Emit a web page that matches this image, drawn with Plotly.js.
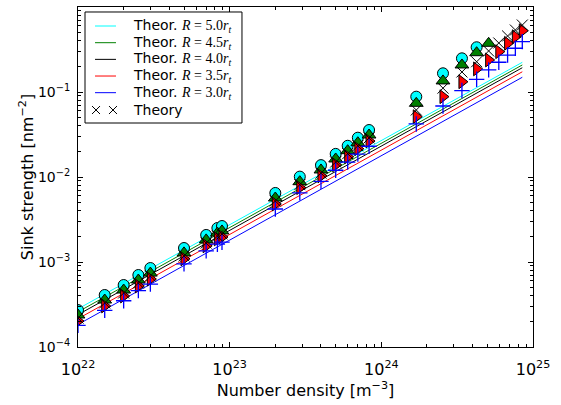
<!DOCTYPE html>
<html>
<head>
<meta charset="utf-8">
<script src="https://cdn.plot.ly/plotly-3.0.1.min.js"></script>
<style>html,body{margin:0;padding:0;background:#fff;}#chart{width:561px;height:405px;}</style>
</head>
<body>
<div id="chart"></div>
<script>
// ---- Theory lines (read at the two ends) ----
const lineX = [1e22, 8.5e24];
const lineR50 = [2.81e-4, 2.235e-1];
const lineR45 = [2.59e-4, 2.08e-1];
const lineR40 = [2.40e-4, 1.93e-1];
const lineR35 = [2.15e-4, 1.73e-1];
const lineR30 = [1.84e-4, 1.49e-1];
const lineLabels = ["5.0", "4.5", "4.0", "3.5", "3.0"];

// ---- Simulation points ----
const nDensity = [1e22, 1.5e22, 2e22, 2.5e22, 3e22, 5e22, 7e22, 8.3e22, 8.9e22,
  2e23, 2.9e23, 4e23, 5e23, 6e23, 7e23, 8.3e23,
  1.7e24, 2.55e24, 3.4e24, 4.25e24, 5.1e24, 5.95e24, 6.8e24, 7.65e24, 8.5e24];

const circleY = [2.72e-4, 4.09e-4, 5.36e-4, 7.03e-4, 8.49e-4, 1.46e-3, 2.08e-3, 2.51e-3, 2.65e-3,
  6.49e-3, 1.01e-2, 1.38e-2, 1.87e-2, 2.33e-2, 2.90e-2, 3.57e-2,
  8.81e-2, 0.166, 0.249, 0.336];
const triUpY = [2.38e-4, 3.57e-4, 4.68e-4, 6.14e-4, 7.41e-4, 1.28e-3, 1.82e-3, 2.19e-3, 2.32e-3,
  5.66e-3, 8.81e-3, 1.21e-2, 1.63e-2, 2.04e-2, 2.53e-2, 3.12e-2,
  7.36e-2, 0.135, 0.208, 0.290, 0.374];
const theoryY = [2.19e-4, 3.30e-4, 4.32e-4, 5.66e-4, 6.84e-4, 1.18e-3, 1.67e-3, 2.02e-3, 2.14e-3,
  5.22e-3, 8.13e-3, 1.11e-2, 1.50e-2, 1.88e-2, 2.33e-2, 2.88e-2,
  6.14e-2, 0.111, 0.172, 0.227, 0.304, 0.377, 0.456, 0.536, 0.614];
const triRightY = [2.02e-4, 3.04e-4, 3.98e-4, 5.22e-4, 6.31e-4, 1.09e-3, 1.55e-3, 1.87e-3, 1.97e-3,
  4.82e-3, 7.50e-3, 1.03e-2, 1.39e-2, 1.73e-2, 2.15e-2, 2.65e-2,
  5.12e-2, 8.81e-2, 0.132, 0.187, 0.238, 0.298, 0.374, 0.447, 0.526];
const plusY = [1.80e-4, 2.70e-4, 3.50e-4, 4.60e-4, 5.50e-4, 9.50e-4, 1.35e-3, 1.62e-3, 1.71e-3,
  4.20e-3, 6.50e-3, 8.90e-3, 1.20e-2, 1.50e-2, 1.86e-2, 2.30e-2,
  4.21e-2, 6.84e-2, 0.104, 0.141, 0.182, 0.224, 0.272, 0.327, 0.391];

const xTickVals = [1e22, 1e23, 1e24, 1e25];
const xTickText = ["10<sup>22</sup>", "10<sup>23</sup>", "10<sup>24</sup>", "10<sup>25</sup>"];
const yTickVals = [1e-4, 1e-3, 1e-2, 1e-1, 1];
const yTickText = ["10<sup>\u22124</sup>", "10<sup>\u22123</sup>", "10<sup>\u22122</sup>", "10<sup>\u22121</sup>", "10<sup>0</sup>"];

function minorTicks(lo, hi) {
  const out = [];
  for (let e = lo; e < hi; e++) for (let d = 2; d <= 9; d++) out.push(d * Math.pow(10, e));
  return out;
}

const lineColors = ["#00ffff", "#008000", "#000000", "#ff0000", "#0000ff"];
const lineData = [lineR50, lineR45, lineR40, lineR35, lineR30];
const serif = "font-family:'Liberation Serif',serif";
const legendNames = lineLabels.map(l =>
  "Theor. <span style=\"" + serif + "\"><i>R</i> = " + l + "<i>r</i><sub><i>t</i></sub></span>");
legendNames.push("Theory");

const traces = [];
lineData.forEach((ys, i) => {
  traces.push({
    x: lineX, y: ys, mode: "lines", type: "scatter", showlegend: false,
    line: {color: lineColors[i], width: 1}, name: legendNames[i], hoverinfo: "skip"
  });
});

traces.push({x: nDensity.slice(0, circleY.length), y: circleY, mode: "markers", type: "scatter", showlegend: false,
  marker: {symbol: "circle", size: 11, color: "#00ffff", line: {color: "#000", width: 1}}});
traces.push({x: nDensity.slice(0, triUpY.length), y: triUpY, mode: "markers", type: "scatter", showlegend: false,
  marker: {symbol: "triangle-up", size: 12, color: "#007f00", line: {color: "#000", width: 1}}});
traces.push({x: nDensity, y: triRightY, mode: "markers", type: "scatter", showlegend: false,
  marker: {symbol: "triangle-right", size: 12, color: "#ff0000", line: {color: "#000", width: 1}}});
traces.push({x: nDensity, y: plusY, mode: "markers", type: "scatter", showlegend: false,
  marker: {symbol: "cross-thin", size: 11, color: "#0000ff", line: {color: "#0000ff", width: 1.3}}});
traces.push({x: nDensity, y: theoryY, mode: "markers", type: "scatter", showlegend: false, name: "Theory",
  marker: {symbol: "x-thin", size: 11, color: "#000", line: {color: "#000", width: 1}}});

// ---- Legend box drawn in paper coordinates ----
const lgX0 = 0.0154, lgX1 = 0.3604, lgY0 = 0.6588, lgY1 = 0.9853;
const rowY = [0.9441, 0.895, 0.846, 0.797, 0.748, 0.697];
const sampleX0 = 0.0374, sampleX1 = 0.0835, textX = 0.1165;
const shapes = [{type: "rect", xref: "paper", yref: "paper", x0: lgX0, x1: lgX1, y0: lgY0, y1: lgY1,
  line: {color: "#000", width: 1}, fillcolor: "#fff", layer: "above"}];
lineColors.forEach((c, i) => shapes.push({type: "line", xref: "paper", yref: "paper",
  x0: sampleX0, x1: sampleX1, y0: rowY[i], y1: rowY[i], line: {color: c, width: 1}, layer: "above"}));
const xh = 4 / 455, yh = 4 / 340;
[0.0396, 0.0769].forEach(cx => {
  const cy = rowY[5];
  shapes.push({type: "line", xref: "paper", yref: "paper", x0: cx - xh, x1: cx + xh, y0: cy - yh, y1: cy + yh,
    line: {color: "#000", width: 1}, layer: "above"});
  shapes.push({type: "line", xref: "paper", yref: "paper", x0: cx - xh, x1: cx + xh, y0: cy + yh, y1: cy - yh,
    line: {color: "#000", width: 1}, layer: "above"});
});
const annotations = legendNames.map((t, i) => ({
  xref: "paper", yref: "paper", x: textX, y: rowY[i], xanchor: "left", yanchor: "middle",
  text: t, showarrow: false, font: {family: "DejaVu Sans", size: 14, color: "#000"}
}));

const layout = {
  width: 561, height: 405,
  margin: {l: 78, r: 28, t: 7, b: 58},
  paper_bgcolor: "#fff", plot_bgcolor: "#fff",
  font: {family: "DejaVu Sans", size: 15, color: "#000"},
  showlegend: false,
  shapes: shapes, annotations: annotations,
  xaxis: {type: "log", range: [22, 25], tickmode: "array", tickvals: xTickVals, ticktext: xTickText,
    ticks: "inside", ticklen: 5, tickcolor: "#000", showgrid: false, zeroline: false,
    showline: true, linecolor: "#000", linewidth: 1, mirror: "allticks",
    minor: {tickmode: "array", tickvals: minorTicks(22, 25), ticks: "inside", ticklen: 3, tickcolor: "#000", showgrid: false},
    tickfont: {size: 16}, ticklabelstandoff: 8,
    title: {text: "Number density [m<sup>\u22123</sup>]", font: {size: 16}, standoff: 6}},
  yaxis: {type: "log", range: [-4, 0], tickmode: "array", tickvals: yTickVals, ticktext: yTickText,
    ticks: "inside", ticklen: 5, tickcolor: "#000", showgrid: false, zeroline: false,
    showline: true, linecolor: "#000", linewidth: 1, mirror: "allticks",
    minor: {tickmode: "array", tickvals: minorTicks(-4, 0), ticks: "inside", ticklen: 3, tickcolor: "#000", showgrid: false},
    tickfont: {size: 14}, ticklabelstandoff: 4,
    title: {text: "Sink strength [nm<sup>\u22122</sup>]", font: {size: 16}, standoff: 0}}
};

Plotly.newPlot("chart", traces, layout, {staticPlot: true, displayModeBar: false});
</script>
</body>
</html>
